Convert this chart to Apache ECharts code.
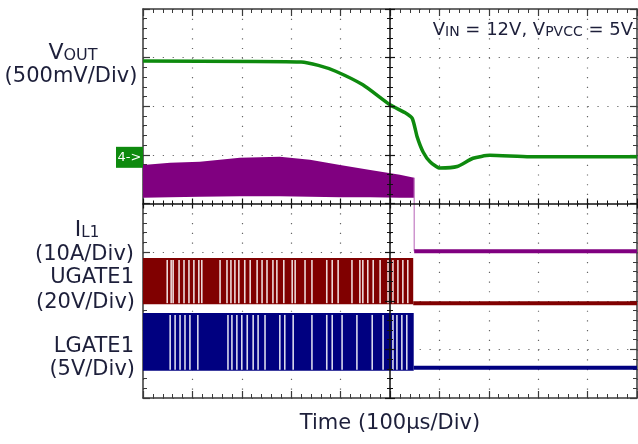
<!DOCTYPE html>
<html>
<head>
<meta charset="utf-8">
<script src="https://cdn.jsdelivr.net/npm/echarts@6/dist/echarts.min.js"></script>
<style>html,body{margin:0;padding:0;background:#fff}#main{width:638px;height:444px}</style>
</head>
<body>
<div id="main"></div>
<script>
// scope screen: time in divisions (0..10), amplitude in divisions (0..8)
var timeDivs = [0, 10];
var ampDivs = [0, 8];

// VOUT (green)
var voutX = [0, 3.2, 3.55, 3.9, 4.45, 5.0, 5.3, 5.45, 5.55, 5.67, 5.81, 6.01, 6.36, 6.68, 7.02, 7.83, 10];
var voutY = [6.93, 6.91, 6.84, 6.72, 6.44, 6.03, 5.87, 5.75, 5.37, 5.06, 4.86, 4.73, 4.76, 4.93, 4.99, 4.96, 4.96];

// IL1 (purple) switching envelope, then flat
var ilX  = [0, 0.55, 1.15, 1.96, 2.77, 3.38, 3.99, 4.6, 5.2, 5.49];
var ilHi = [4.79, 4.84, 4.86, 4.94, 4.96, 4.9, 4.79, 4.69, 4.59, 4.53];
var ilLo = [4.12, 4.13, 4.14, 4.15, 4.15, 4.14, 4.13, 4.13, 4.12, 4.12];
var ilOff = 3.02;

// UGATE1 (dark red)
var ugX = [0, 5.47];
var ugHi = [2.88, 2.88];
var ugLo = [1.93, 1.93];
var ugOff = 1.95;
var ugGaps = [0.49, 0.57, 0.61, 0.73, 0.83, 0.93, 1.03, 1.13, 1.19, 1.56, 1.70, 1.78, 1.86, 1.94, 2.06, 2.17,
  2.31, 2.41, 2.51, 2.63, 2.71, 2.85, 3.02, 3.08, 3.28, 3.42, 3.72, 3.83, 3.95, 4.23, 4.39, 4.45, 4.55,
  4.66, 4.80, 4.96, 5.06, 5.16, 5.26, 5.36];

// LGATE1 (navy)
var lgX = [0, 5.48];
var lgHi = [1.75, 1.75];
var lgLo = [0.56, 0.56];
var lgOff = 0.62;
var lgGaps = [0.55, 0.65, 0.75, 0.85, 0.95, 1.11, 1.72, 1.80, 1.90, 2.00, 2.11, 2.23, 2.33, 2.47, 2.77,
  2.87, 3.04, 3.42, 3.72, 3.83, 4.03, 4.33, 4.64, 4.86, 5.06, 5.14, 5.24, 5.34];

var ch4Ref = 4.96;

var FONT = 'DejaVu Sans';
var INK = '#1d1f3a';
var FRAME = '#3a3a3a';

var myChart = echarts.init(document.getElementById('main'));

function axisBase(min, max, extra) {
    var a = {
        type: 'value', min: min, max: max, interval: 1,
        axisLine: {show: true, onZero: false, lineStyle: {color: FRAME, width: 1.5}},
        axisTick: {show: true, inside: true, length: 7, lineStyle: {color: FRAME, width: 1.2}},
        minorTick: {show: true, splitNumber: 5, length: 4, lineStyle: {color: FRAME, width: 1}},
        axisLabel: {show: false},
        splitLine: {show: false}
    };
    for (var k in extra) a[k] = extra[k];
    return a;
}

function band(xs, hi, lo, color) {
    return {
        type: 'custom', silent: true, z: 2,
        data: [[xs[0], lo[0]]],
        renderItem: function (params, api) {
            var pts = [];
            for (var i = 0; i < xs.length; i++) pts.push(api.coord([xs[i], hi[i]]));
            for (var j = xs.length - 1; j >= 0; j--) pts.push(api.coord([xs[j], lo[j]]));
            return {type: 'polygon', shape: {points: pts}, style: {fill: color}};
        }
    };
}

function gaps(list, lo, hi) {
    return {
        type: 'custom', silent: true, z: 3,
        data: list.map(function (x) { return [x, lo, hi]; }),
        renderItem: function (params, api) {
            var top = api.coord([api.value(0), api.value(2)]);
            var bot = api.coord([api.value(0), api.value(1)]);
            return {type: 'rect', shape: {x: top[0] - 0.8, y: top[1] + 2, width: 1.6, height: bot[1] - top[1] - 3},
                style: {fill: 'rgba(255,255,255,0.85)'}};
        }
    };
}

function flat(x0, level, color, w) {
    return {
        type: 'line', silent: true, symbol: 'none', z: 2,
        data: [[x0, level], [timeDivs[1], level]],
        lineStyle: {color: color, width: w}
    };
}

var option = {
    animation: false,
    backgroundColor: '#fff',
    textStyle: {fontFamily: FONT},
    grid: {left: 143, top: 9, width: 494, height: 389},
    xAxis: [
        axisBase(timeDivs[0], timeDivs[1], {
            position: 'bottom',
            splitLine: {show: true, lineStyle: {color: '#666', width: 1.2, type: [1.2, 8.53]}},
            name: 'Time (100µs/Div)', nameLocation: 'middle', nameGap: 15,
            nameTextStyle: {color: INK, fontSize: 21, fontFamily: FONT}
        }),
        axisBase(timeDivs[0], timeDivs[1], {position: 'top'}),
        axisBase(timeDivs[0], timeDivs[1], {position: 'bottom', offset: -194.5, z: 5,
            axisTick: {show: true, inside: true, length: 5, lineStyle: {color: '#111', width: 1.2}},
            minorTick: {show: true, splitNumber: 5, length: 3, lineStyle: {color: '#111'}},
            axisLine: {show: true, onZero: false, lineStyle: {color: '#111', width: 1.5}}}),
        axisBase(timeDivs[0], timeDivs[1], {position: 'bottom', offset: -194.5, z: 5,
            axisTick: {show: true, inside: false, length: 5, lineStyle: {color: '#111', width: 1.2}},
            minorTick: {show: true, splitNumber: 5, length: 3, lineStyle: {color: '#111'}},
            axisLine: {show: false}})
    ],
    yAxis: [
        axisBase(ampDivs[0], ampDivs[1], {
            position: 'left',
            splitLine: {show: true, lineStyle: {color: '#666', width: 1.2, type: [1.2, 8.68]}}
        }),
        axisBase(ampDivs[0], ampDivs[1], {position: 'right'}),
        axisBase(ampDivs[0], ampDivs[1], {position: 'left', offset: -247, z: 5,
            axisTick: {show: true, inside: true, length: 5, lineStyle: {color: '#111', width: 1.2}},
            minorTick: {show: true, splitNumber: 5, length: 3, lineStyle: {color: '#111'}},
            axisLine: {show: true, onZero: false, lineStyle: {color: '#111', width: 1.5}}}),
        axisBase(ampDivs[0], ampDivs[1], {position: 'left', offset: -247, z: 5,
            axisTick: {show: true, inside: false, length: 5, lineStyle: {color: '#111', width: 1.2}},
            minorTick: {show: true, splitNumber: 5, length: 3, lineStyle: {color: '#111'}},
            axisLine: {show: false}})
    ],
    series: [
        band(ilX, ilHi, ilLo, '#800080'),
        {
            type: 'line', silent: true, symbol: 'none', z: 2,
            data: [[ilX[ilX.length - 1], ilHi[ilHi.length - 1]], [ilX[ilX.length - 1], ilOff]],
            lineStyle: {color: '#c27cc2', width: 1.2}
        },
        flat(ilX[ilX.length - 1], ilOff, '#800080', 4),
        band(ugX, ugHi, ugLo, '#800000'),
        flat(ugX[1], ugOff, '#800000', 4),
        gaps(ugGaps, ugLo[0], ugHi[0]),
        band(lgX, lgHi, lgLo, '#000080'),
        flat(lgX[1], lgOff, '#000080', 4),
        gaps(lgGaps, lgLo[0], lgHi[0]),
        {
            type: 'line', silent: true, symbol: 'none', smooth: 0.2, z: 4,
            data: voutX.map(function (x, i) { return [x, voutY[i]]; }),
            lineStyle: {color: '#0e8a0e', width: 3.5}
        }
    ]
};

myChart.setOption(option);

var ref = myChart.convertToPixel({gridIndex: 0}, [0, ch4Ref]);
var big = {fontSize: 22, fontFamily: FONT, fill: INK, verticalAlign: 'bottom'};
var small = {fontSize: 16, fontFamily: FONT, fill: INK, verticalAlign: 'bottom'};
function label(text, x, y, align, rich) {
    return {type: 'text', z: 10, style: {text: text, x: x, y: y, align: align, verticalAlign: 'middle',
        font: '21px "' + FONT + '"', fill: INK, rich: rich}};
}

myChart.setOption({
    graphic: [
        {type: 'rect', z: 10, shape: {x: ref[0] - 27, y: ref[1] - 10, width: 27, height: 21},
            style: {fill: '#0e8a0e'}},
        {type: 'text', z: 11, style: {text: '4->', x: ref[0] - 13.5, y: ref[1] + 0.5, align: 'center',
            verticalAlign: 'middle', font: '13px "' + FONT + '"', fill: '#fff'}},
        label('{v|V}{s|OUT}', 73, 53, 'center', {v: big, s: small}),
        label('(500mV/Div)', 71, 77, 'center'),
        label('{v|I}{s|L1}', 87, 230, 'center', {v: big, s: {fontSize: 15, fontFamily: FONT, fill: INK, verticalAlign: 'bottom'}}),
        label('(10A/Div)', 134, 255, 'right'),
        label('UGATE1', 134, 278, 'right'),
        label('(20V/Div)', 135, 303, 'right'),
        label('LGATE1', 134, 347, 'right'),
        label('(5V/Div)', 135, 370, 'right'),
        label('{v|V}{s|IN}{v| = 12V, V}{s|PVCC}{v| = 5V}', 633, 30, 'right', {
            v: {fontSize: 18, fontFamily: FONT, fill: INK, verticalAlign: 'bottom'},
            s: {fontSize: 14, fontFamily: FONT, fill: INK, verticalAlign: 'bottom'}
        })
    ]
});
</script>
</body>
</html>
